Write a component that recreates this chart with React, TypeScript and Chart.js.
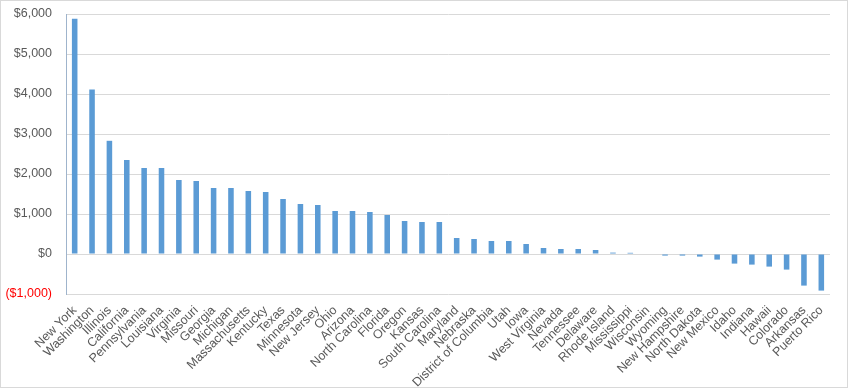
import React, { useEffect, useRef } from "react";
import { Chart, registerables } from "chart.js";

Chart.register(...registerables);

const states: string[] = [
  "New York", "Washington", "Illinois", "California", "Pennsylvania", "Louisiana",
  "Virginia", "Missouri", "Georgia", "Michigan", "Massachusetts", "Kentucky",
  "Texas", "Minnesota", "New Jersey", "Ohio", "Arizona", "North Carolina",
  "Florida", "Oregon", "Kansas", "South Carolina", "Maryland", "Nebraska",
  "District of Columbia", "Utah", "Iowa", "West Virginia", "Nevada", "Tennessee",
  "Delaware", "Rhode Island", "Mississippi", "Wisconsin", "Wyoming", "New Hampshire",
  "North Dakota", "New Mexico", "Idaho", "Indiana", "Hawaii", "Colorado",
  "Arkansas", "Puerto Rico",
];

const values: number[] = [
  5880, 4110, 2830, 2350, 2150, 2150,
  1850, 1825, 1650, 1650, 1575, 1550,
  1375, 1250, 1225, 1075, 1075, 1050,
  975, 825, 800, 800, 400, 375,
  325, 325, 250, 150, 125, 125,
  100, 35, 30, 0, -40, -40,
  -65, -140, -240, -265, -315, -390,
  -790, -915,
];

const yMin = -1000;
const yMax = 6000;
const yStep = 1000;

const FONT = "'Liberation Sans', Arial, sans-serif";

export default function App() {
  const canvasRef = useRef<HTMLCanvasElement | null>(null);

  useEffect(() => {
    document.body.style.margin = "0";
    const canvas = canvasRef.current;
    if (!canvas) return;

    const borderPlugin = {
      id: "outerBorder",
      beforeDraw(chart: any) {
        const ctx = chart.ctx;
        ctx.save();
        ctx.fillStyle = "#ffffff";
        ctx.fillRect(0, 0, chart.width, chart.height);
        ctx.strokeStyle = "#d9d9d9";
        ctx.lineWidth = 1;
        ctx.strokeRect(0.5, 0.5, 847, 387);
        ctx.restore();
      },
    };

    const chart = new Chart(canvas, {
      type: "bar",
      data: {
        labels: states,
        datasets: [
          {
            data: values,
            backgroundColor: "#5b9bd5",
            borderWidth: 0,
            categoryPercentage: 1,
            barPercentage: 0.32,
          },
        ],
      },
      options: {
        animation: false,
        responsive: false,
        maintainAspectRatio: false,
        layout: { padding: { top: 14, right: 18, left: 0, bottom: 0 } },
        plugins: {
          legend: { display: false },
          tooltip: { enabled: false },
        },
        scales: {
          x: {
            offset: true,
            grid: { display: false, drawTicks: false },
            border: { display: false },
            ticks: {
              autoSkip: false,
              maxRotation: 45,
              minRotation: 45,
              padding: 9,
              color: "#595959",
              font: { family: FONT, size: 12.5 },
            },
            afterFit(scale: any) {
              scale.height = 96;
            },
          },
          y: {
            min: yMin,
            max: yMax,
            grid: { color: "#d9d9d9", drawTicks: false, lineWidth: 1 },
            border: { display: true, color: "#9fb4cc", width: 1 },
            ticks: {
              stepSize: yStep,
              padding: 14,
              font: { family: FONT, size: 12.5 },
              color: (ctx: any) => (ctx.tick && ctx.tick.value < 0 ? "#ff0000" : "#595959"),
              callback: (v: any) => {
                const n = Number(v);
                const s = "$" + Math.abs(n).toLocaleString("en-US");
                return n < 0 ? "(" + s + ")" : s;
              },
            },
            afterFit(scale: any) {
              scale.width = 66;
              scale.paddingTop = 0;
              scale.paddingBottom = 0;
            },
          },
        },
      },
      plugins: [borderPlugin],
    });

    return () => chart.destroy();
  }, []);

  return (
    <div style={{ width: 848, height: 390, position: "relative" }}>
      <canvas ref={canvasRef} width={848} height={390} style={{ display: "block" }} />
    </div>
  );
}
